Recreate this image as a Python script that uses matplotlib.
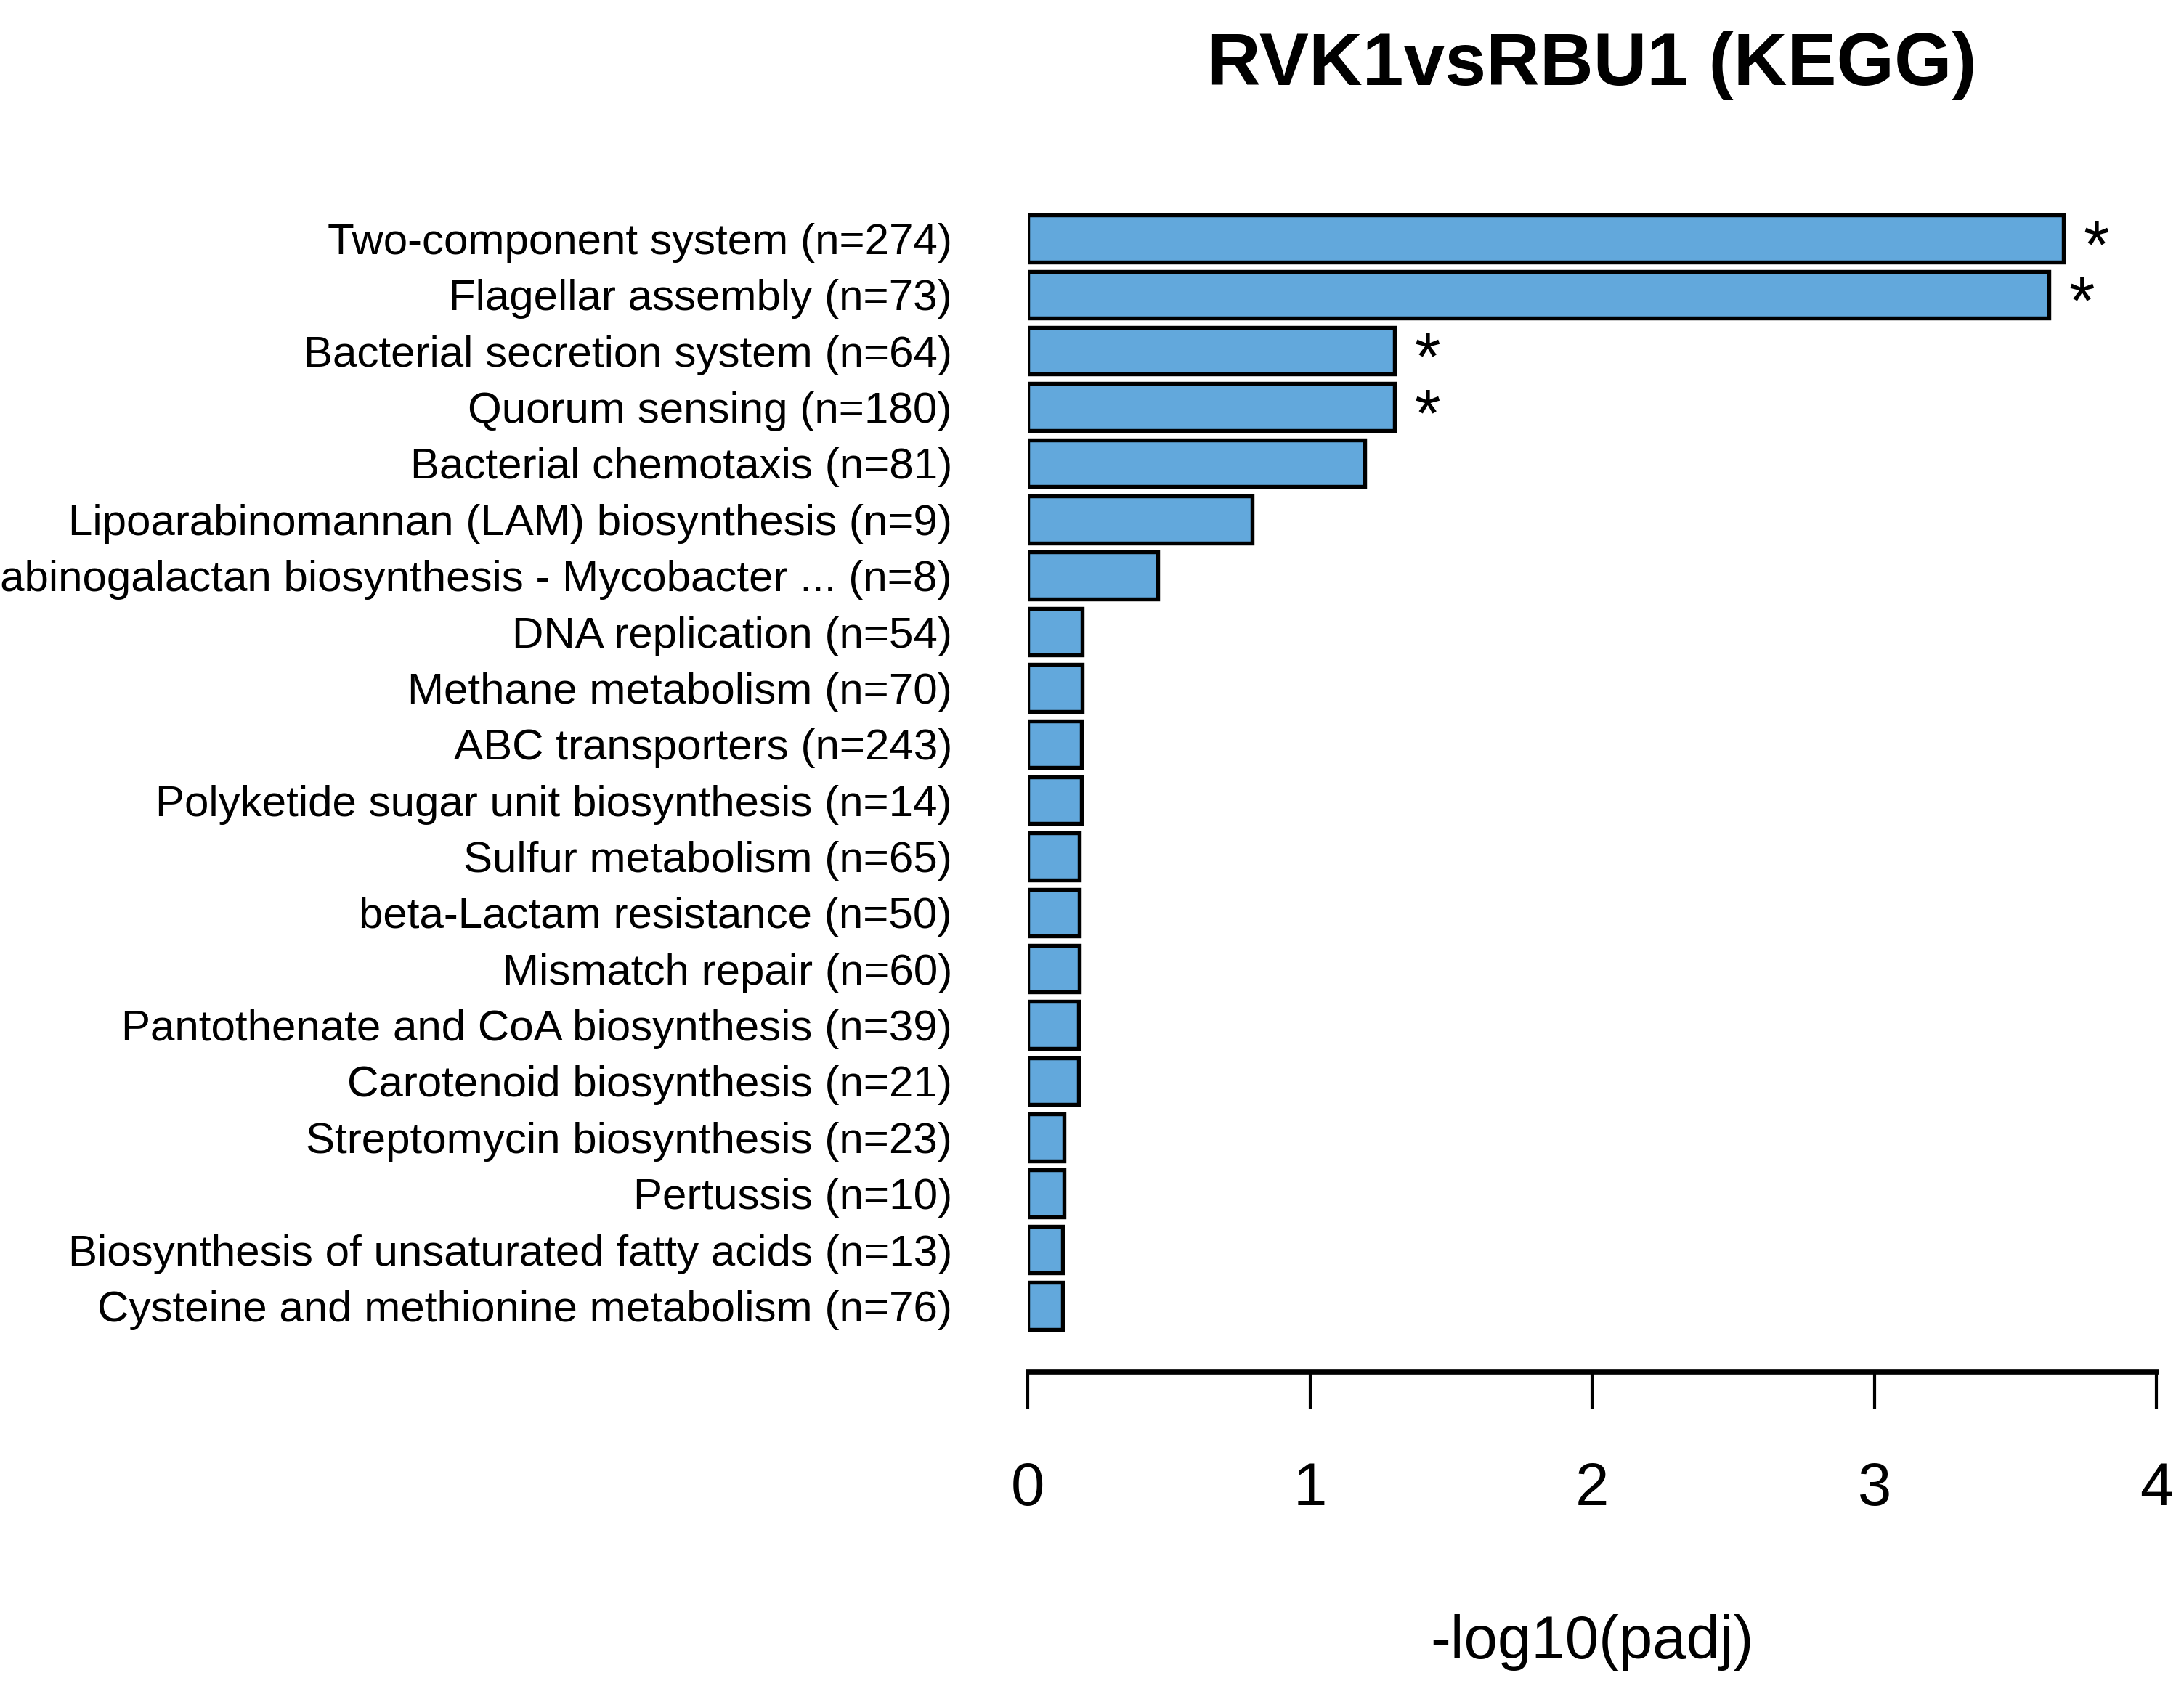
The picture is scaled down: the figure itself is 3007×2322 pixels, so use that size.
import numpy as np
from matplotlib import pyplot as plt

plt.rcParams['font.family'] = ['Liberation Sans', 'DejaVu Sans']

pathways = ["Two-component system (n=274)",
            "Flagellar assembly (n=73)",
            "Bacterial secretion system (n=64)",
            "Quorum sensing (n=180)",
            "Bacterial chemotaxis (n=81)",
            "Lipoarabinomannan (LAM) biosynthesis (n=9)",
            "Arabinogalactan biosynthesis - Mycobacter ... (n=8)",
            "DNA replication (n=54)",
            "Methane metabolism (n=70)",
            "ABC transporters (n=243)",
            "Polyketide sugar unit biosynthesis (n=14)",
            "Sulfur metabolism (n=65)",
            "beta-Lactam resistance (n=50)",
            "Mismatch repair (n=60)",
            "Pantothenate and CoA biosynthesis (n=39)",
            "Carotenoid biosynthesis (n=21)",
            "Streptomycin biosynthesis (n=23)",
            "Pertussis (n=10)",
            "Biosynthesis of unsaturated fatty acids (n=13)",
            "Cysteine and methionine metabolism (n=76)"]
neglog_padj = [3.67, 3.62, 1.30, 1.30, 1.195, 0.795, 0.46, 0.193, 0.193, 0.19,
               0.19, 0.183, 0.183, 0.183, 0.18, 0.18, 0.128, 0.128, 0.123, 0.123]
significant = [True, True, True, True] + [False] * 16

fig = plt.figure(figsize=(3007 / 300, 2322 / 300), dpi=300)
ax = fig.add_axes([0.4706, 0.1865, 0.5168, 0.692])

y = np.arange(len(pathways))
ax.barh(y, neglog_padj, height=0.833, color='#62A8DC', edgecolor='black', linewidth=1.3)

# stars for significant pathways
for i, v in enumerate(neglog_padj):
    if significant[i]:
        ax.text(v + 0.07, y[i] + 0.2, "*", fontsize=22, ha='left', va='center')

ax.set_ylim(20.17, -0.6)
ax.set_xlim(0, 4)
ax.set_yticks(y)
ax.set_yticklabels(pathways, fontsize=14.45)
ax.tick_params(axis='y', length=0, pad=25)

ax.set_xticks([0, 1, 2, 3, 4])
ax.set_xticklabels(["0", "1", "2", "3", "4"], fontsize=20)
ax.tick_params(axis='x', length=12.5, width=1.0, pad=17)
for s in ['top', 'right', 'left']:
    ax.spines[s].set_visible(False)
ax.spines['bottom'].set_linewidth(1.6)
ax.spines['bottom'].set_bounds(0, 4)
ax.set_xlabel("-log10(padj)", fontsize=20, labelpad=32)

fig.text(0.729, 0.961, "RVK1vsRBU1 (KEGG)", fontsize=24.5, fontweight='bold', ha='center', va='center')

fig.savefig("out.png", dpi=300)
